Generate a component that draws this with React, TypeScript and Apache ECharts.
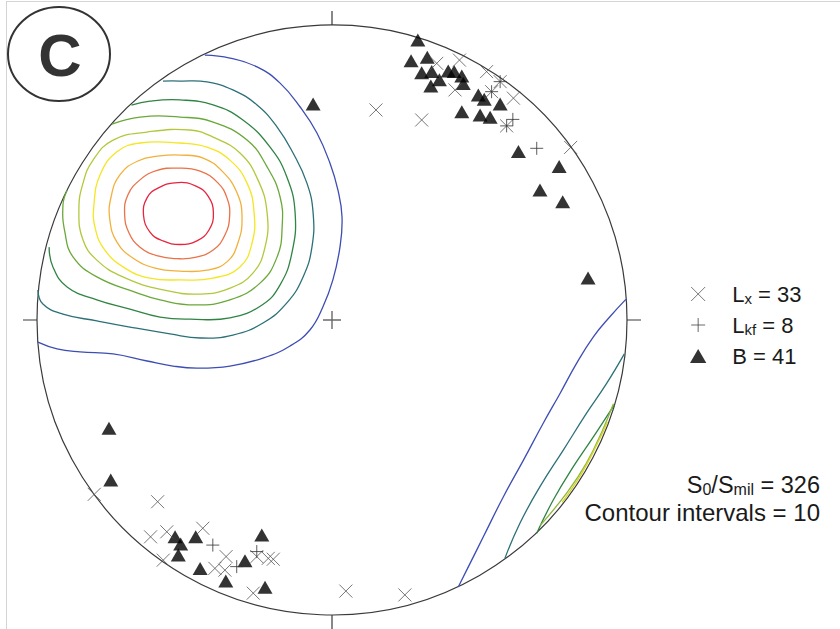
import React, { useEffect, useRef } from 'react';
import * as echarts from 'echarts';

// Stereonet plane coordinates (primitive circle radius = 100, north up, east right)
const lxCount = 33;
const lkfCount = 8;
const bCount = 41;
const s0Count = 326;
const contourInterval = 10;

const lxPoints: [number, number][] = [
  [35.5, 87.0], [43.2, 88.1], [41.7, 78.0], [52.4, 84.2], [54.1, 77.4], [57.0, 80.8],
  [61.5, 75.2], [59.2, 65.8], [30.4, 67.8], [14.9, 71.2], [80.9, 58.5],
  [-80.6, -59.1], [-59.1, -61.6], [-61.5, -73.5], [-56.0, -71.8], [-43.8, -70.6],
  [-57.2, -81.4], [-35.9, -80.2], [-39.7, -84.2], [-36.3, -84.8], [-25.5, -80.2],
  [-21.6, -80.8], [-19.9, -81.1], [-26.7, -92.6], [4.7, -91.9], [24.7, -93.2],
];

const lkfPoints: [number, number][] = [
  [61.3, 68.0], [69.4, 58.2], [57.0, 80.8], [54.1, 77.4], [59.2, 65.8],
  [-40.4, -76.3], [-32.3, -83.6], [-25.5, -78.5],
];

const bPoints: [number, number][] = [
  [29.1, 94.9], [26.8, 87.9], [32.3, 89.1], [30.4, 83.8], [33.8, 84.2], [36.4, 81.4],
  [33.5, 79.3], [39.4, 84.4], [41.4, 84.2], [44.0, 82.7], [44.5, 80.2], [49.6, 76.3],
  [51.6, 74.8], [57.0, 73.2], [44.0, 70.6], [50.2, 69.5], [53.6, 68.7], [63.2, 57.1],
  [77.0, 52.0], [70.5, 44.1], [78.2, 40.1], [86.8, 14.2], [-6.4, 73.2],
  [-75.6, -36.7], [-75.0, -54.2], [-53.2, -73.5], [-51.3, -75.9], [-52.1, -79.7],
  [-46.2, -73.5], [-44.7, -84.2], [-36.0, -88.5], [-29.5, -81.6], [-23.8, -72.9],
  [-22.7, -90.6],
];

// Density contours, north-west maximum (outermost to innermost); open ones end on the primitive
const nw1: [number, number][] = [
  [-43.1, 89.8], [-34.6, 88.8], [-25.4, 85.8], [-17.6, 80.3], [-10.8, 72.2], [-5.1, 63.4],
  [-0.7, 53.2], [2.0, 44.1], [3.4, 34.9], [2.7, 24.7], [0.3, 13.6], [-3.1, 4.4], [-7.5, -3.4],
  [-14.2, -8.8], [-23.4, -12.9], [-34.6, -15.6], [-45.8, -16.3], [-53.9, -15.6], [-62.7, -13.9],
  [-74.2, -11.5], [-85.4, -10.8], [-93.2, -9.8], [-99.7, -7.5],
];
const nw2: [number, number][] = [
  [-57.3, 81.0], [-51.5, 81.0], [-42.4, 80.7], [-33.6, 78.0], [-25.4, 72.9], [-18.6, 65.4],
  [-13.2, 56.6], [-8.5, 46.4], [-6.4, 36.3], [-6.8, 24.7], [-9.8, 14.6], [-15.3, 5.8],
  [-23.4, -1.0], [-33.6, -5.1], [-44.7, -6.1], [-54.9, -4.7], [-68.5, -2.4], [-79.7, -0.3],
  [-91.2, 2.0], [-98.0, 5.4], [-99.7, 10.2],
];
const nw3: [number, number][] = [
  [-68.0, 72.8], [-61.7, 74.2], [-51.5, 74.6], [-40.3, 72.9], [-30.2, 67.8], [-21.0, 58.6],
  [-15.3, 48.5], [-12.5, 36.3], [-13.6, 22.7], [-17.6, 11.9], [-23.7, 5.1], [-34.6, 0.7],
  [-48.1, 0.3], [-58.3, 1.0], [-68.5, 3.7], [-79.7, 6.8], [-89.8, 11.2], [-94.6, 18.0], [-95.9, 24.7],
];
const nw4: [number, number][] = [
  [-74.6, 66.4], [-65.1, 68.8], [-51.5, 68.8], [-40.3, 67.1], [-28.8, 61.0], [-22.0, 51.9],
  [-17.6, 41.7], [-16.9, 31.5], [-18.6, 21.4], [-24.4, 12.5], [-34.6, 6.8], [-46.4, 5.1],
  [-58.3, 6.8], [-66.1, 9.2], [-79.7, 14.6], [-87.8, 21.4], [-90.5, 29.5], [-91.2, 39.0], [-89.8, 43.9],
];
const nw5: [number, number][] = [
  [-48.1, 64.4], [-40.3, 62.0], [-31.2, 56.6], [-25.1, 47.5], [-22.0, 36.3], [-22.7, 24.7],
  [-26.8, 15.9], [-34.6, 10.8], [-44.7, 8.8], [-57.3, 10.2], [-70.9, 14.6], [-79.7, 20.3],
  [-84.4, 27.1], [-85.8, 37.3], [-84.4, 46.4], [-81.0, 54.2], [-74.2, 61.0], [-62.7, 63.7],
];
const nw6: [number, number][] = [
  [-51.5, 60.0], [-42.4, 58.6], [-34.6, 54.2], [-28.8, 46.4], [-26.4, 36.3], [-27.1, 26.1],
  [-31.2, 18.0], [-40.3, 14.2], [-51.5, 13.6], [-61.7, 14.2], [-70.2, 17.6], [-77.0, 23.7],
  [-80.3, 31.2], [-80.7, 39.0], [-78.6, 49.2], [-72.9, 57.0], [-65.1, 60.0],
];
const nw7: [number, number][] = [
  [-51.5, 55.9], [-43.7, 54.9], [-37.0, 50.2], [-32.2, 43.1], [-30.5, 34.9], [-31.9, 26.1],
  [-35.6, 19.7], [-42.4, 16.9], [-51.5, 16.6], [-60.0, 17.6], [-67.5, 21.0], [-72.9, 26.4],
  [-75.3, 33.9], [-74.9, 41.7], [-71.9, 49.2], [-65.8, 53.9], [-58.3, 55.6],
];
const nw8: [number, number][] = [
  [-52.5, 51.5], [-44.7, 50.5], [-38.6, 46.4], [-35.6, 41.4], [-34.7, 35.3], [-36.3, 28.8],
  [-40.3, 23.7], [-46.4, 21.2], [-52.5, 20.8], [-59.0, 21.7], [-65.1, 24.7], [-68.8, 29.5],
  [-70.3, 35.9], [-69.2, 42.4], [-65.1, 47.5], [-59.3, 50.7],
];
const nw9: [number, number][] = [
  [-52.2, 46.6], [-46.1, 45.4], [-42.0, 42.0], [-40.2, 36.3], [-41.7, 30.5], [-45.8, 26.8],
  [-51.5, 25.6], [-57.3, 26.8], [-61.7, 29.8], [-63.9, 35.6], [-62.7, 41.4], [-59.0, 44.7],
];

// Density contours, south-east edge (antipodal part)
const se1: [number, number][] = [
  [99.6, 7.0], [94.2, 1.1], [88.6, -5.7], [82.9, -14.7], [77.3, -24.9], [71.6, -35.0],
  [64.9, -47.5], [58.1, -59.9], [51.3, -73.5], [46.8, -82.5], [42.8, -90.5],
];
const se2: [number, number][] = [
  [99.1, -11.5], [93.1, -21.5], [86.3, -31.6], [78.4, -44.1], [70.5, -56.5], [63.7, -68.9], [58.6, -80.8],
];
const se3: [number, number][] = [
  [95.7, -28.8], [88.6, -39.6], [81.8, -49.7], [75.0, -61.0], [69.4, -72.3],
];
const se4: [number, number][] = [
  [95.4, -28.4], [91.6, -37.6], [86.2, -48.6], [79.6, -58.6], [70.6, -69.6],
];
const se5: [number, number][] = [
  [93.4, -34.6], [89.6, -42.6], [84.4, -52.4], [78.0, -61.8],
];

const contourColors = [
  '#3d4db3', '#2c7078', '#2f8443', '#6aa83a', '#b2c83c', '#f4e622', '#f2b03a', '#ea7249', '#e6243d',
];
const seColors = ['#3d4db3', '#2c7078', '#2f8443', '#8fb83a', '#d8d42a'];

type Contour = { pts: [number, number][]; color: string; closed: boolean };
const contours: Contour[] = [
  { pts: nw1, color: contourColors[0], closed: false },
  { pts: nw2, color: contourColors[1], closed: false },
  { pts: nw3, color: contourColors[2], closed: false },
  { pts: nw4, color: contourColors[3], closed: false },
  { pts: nw5, color: contourColors[4], closed: true },
  { pts: nw6, color: contourColors[5], closed: true },
  { pts: nw7, color: contourColors[6], closed: true },
  { pts: nw8, color: contourColors[7], closed: true },
  { pts: nw9, color: contourColors[8], closed: true },
  { pts: se1, color: seColors[0], closed: false },
  { pts: se2, color: seColors[1], closed: false },
  { pts: se3, color: seColors[2], closed: false },
  { pts: se4, color: seColors[3], closed: false },
  { pts: se5, color: seColors[4], closed: false },
];

const FONT = "'Liberation Sans', Arial, Helvetica, sans-serif";
const CROSS = 'path://M0,0L12,12M12,0L0,12';
const PLUS = 'path://M6,0L6,12M0,6L12,6';
const TRI = 'path://M7,0L14,12L0,12Z';

const legendText: Record<string, string> = {
  Lx: `{m|L}{s|x}{m| = ${lxCount}}`,
  Lkf: `{m|L}{s|kf}{m| = ${lkfCount}}`,
  B: `{m|B = ${bCount}}`,
};

export default function App() {
  const ref = useRef<HTMLDivElement>(null);
  useEffect(() => {
    const chart = echarts.init(ref.current!, undefined, { renderer: 'svg' });
    const option: any = {
      animation: false,
      backgroundColor: '#ffffff',
      grid: { left: 37, top: 25, width: 590, height: 590 },
      xAxis: { type: 'value', min: -100, max: 100, show: false },
      yAxis: { type: 'value', min: -100, max: 100, show: false },
      polar: { center: [332, 320], radius: 295 },
      angleAxis: {
        type: 'value', min: 0, max: 360, interval: 90, startAngle: 90,
        axisLine: { show: true, lineStyle: { color: '#3a3a3a', width: 1.2 } },
        axisTick: { show: true, length: 14, lineStyle: { color: '#3a3a3a', width: 1.2 } },
        axisLabel: { show: false }, splitLine: { show: false }, splitArea: { show: false },
      },
      radiusAxis: {
        show: false, min: 0, max: 100,
        axisLine: { show: false }, axisTick: { show: false }, axisLabel: { show: false },
        splitLine: { show: false },
      },
      legend: {
        orient: 'vertical', left: 685, top: 278, itemWidth: 58, itemHeight: 14, itemGap: 8,
        selectedMode: false,
        data: [
          { name: 'Lx', icon: CROSS, itemStyle: { color: 'transparent', borderColor: '#555', borderWidth: 1 } },
          { name: 'Lkf', icon: PLUS, itemStyle: { color: 'transparent', borderColor: '#444', borderWidth: 1 } },
          { name: 'B', icon: TRI, itemStyle: { color: '#000', borderWidth: 0 } },
        ],
        formatter: (name: string) => legendText[name] || name,
        textStyle: {
          color: '#1a1a1a', fontFamily: FONT, fontSize: 22,
          rich: {
            m: { fontSize: 22, fontFamily: FONT, color: '#1a1a1a', lineHeight: 24 },
            s: { fontSize: 15, fontFamily: FONT, color: '#1a1a1a', lineHeight: 19, verticalAlign: 'bottom' },
          },
        },
      },
      graphic: [
        { type: 'line', shape: { x1: 6, y1: 1.5, x2: 840, y2: 1.5 }, style: { stroke: '#d4d4d4', lineWidth: 1 }, silent: true },
        { type: 'line', shape: { x1: 6.5, y1: 1.5, x2: 6.5, y2: 629 }, style: { stroke: '#d4d4d4', lineWidth: 1 }, silent: true },
        { type: 'ellipse', shape: { cx: 59, cy: 54, rx: 51, ry: 47 }, style: { fill: '#fff', stroke: '#333', lineWidth: 2 }, z: 10 },
        {
          type: 'text', x: 60, y: 55, z: 11,
          style: { text: 'C', font: `bold 60px ${FONT}`, fill: '#333', align: 'center', verticalAlign: 'middle' },
        },
        {
          type: 'text', x: 820, y: 485, z: 11,
          style: {
            text: `{m|S}{s|0}{m|/S}{s|mil}{m| = ${s0Count}}`,
            align: 'right', verticalAlign: 'middle',
            rich: {
              m: { fontSize: 23.5, fontFamily: FONT, fill: '#1a1a1a', lineHeight: 24 },
              s: { fontSize: 16, fontFamily: FONT, fill: '#1a1a1a', lineHeight: 19, verticalAlign: 'bottom' },
            },
          },
        },
        {
          type: 'text', x: 820, y: 512, z: 11,
          style: {
            text: `Contour intervals = ${contourInterval}`,
            font: `24px ${FONT}`, fill: '#1a1a1a', align: 'right', verticalAlign: 'middle',
          },
        },
      ],
      series: [
        {
          type: 'custom', name: 'contours', coordinateSystem: 'cartesian2d', silent: true, z: 2,
          data: contours.map((c, i) => [c.pts[0][0], c.pts[0][1], i]),
          encode: { x: 0, y: 1 },
          renderItem: (_params: any, api: any) => {
            const c = contours[api.value(2)];
            const points = c.pts.map((p) => api.coord(p));
            return {
              type: c.closed ? 'polygon' : 'polyline',
              shape: { points, smooth: 0.45 },
              style: { stroke: c.color, lineWidth: 1.3, fill: 'none' },
            };
          },
        },
        {
          type: 'scatter', name: 'center', data: [[0, 0]], symbol: PLUS, symbolSize: 18, silent: true,
          itemStyle: { color: 'transparent', borderColor: '#444', borderWidth: 1.4 }, z: 3,
        },
        {
          type: 'scatter', name: 'B', data: bPoints, symbol: 'triangle', symbolSize: [15, 13],
          itemStyle: { color: '#000' }, z: 4,
        },
        {
          type: 'scatter', name: 'Lx', data: lxPoints, symbol: CROSS, symbolSize: 13,
          itemStyle: { color: 'transparent', borderColor: '#555', borderWidth: 1 }, z: 5,
        },
        {
          type: 'scatter', name: 'Lkf', data: lkfPoints, symbol: PLUS, symbolSize: 13,
          itemStyle: { color: 'transparent', borderColor: '#333', borderWidth: 1 }, z: 5,
        },
      ],
    };
    chart.setOption(option);
    return () => chart.dispose();
  }, []);
  return (
    <div
      ref={ref}
      style={{ position: 'absolute', left: 0, top: 0, width: 840, height: 629, background: '#fff' }}
    />
  );
}
